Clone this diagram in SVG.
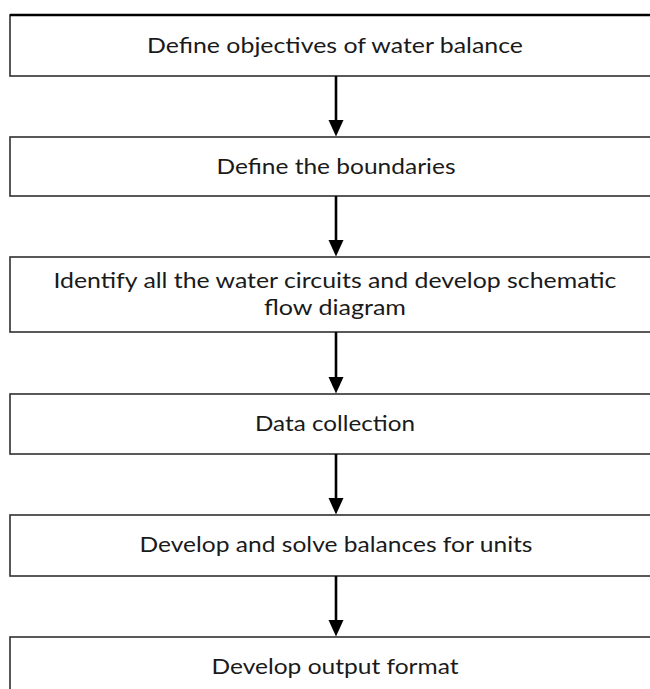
<svg xmlns="http://www.w3.org/2000/svg" width="650" height="689" viewBox="0 0 650 689">
<style>
.box{fill:#ffffff;stroke:#303030;stroke-width:1.6}
.lbl{font-family:Lato,"Open Sans","Liberation Sans",sans-serif;font-size:21px;fill:#1a1a1a;text-anchor:middle}
.conn{stroke:#000000;stroke-width:2.6;fill:none}
.head{fill:#000000}
</style>
<rect width="650" height="689" fill="#ffffff"/>
<g id="node1"><rect class="box" x="10" y="15" width="660" height="61"/><line x1="10" y1="15" x2="650" y2="15" stroke="#000" stroke-width="2.6"/><text class="lbl" x="335" y="53" textLength="376" lengthAdjust="spacingAndGlyphs">Define objectives of water balance</text></g>
<g id="node2"><rect class="box" x="10" y="137" width="660" height="59"/><text class="lbl" x="336" y="174" textLength="239" lengthAdjust="spacingAndGlyphs">Define the boundaries</text></g>
<g id="node3"><rect class="box" x="10" y="257" width="660" height="75"/><text class="lbl" x="335" y="288" textLength="563" lengthAdjust="spacingAndGlyphs">Identify all the water circuits and develop schematic</text><text class="lbl" x="335" y="315" textLength="142" lengthAdjust="spacingAndGlyphs">flow diagram</text></g>
<g id="node4"><rect class="box" x="10" y="394" width="660" height="60"/><text class="lbl" x="335" y="431" textLength="160" lengthAdjust="spacingAndGlyphs">Data collection</text></g>
<g id="node5"><rect class="box" x="10" y="515" width="660" height="61"/><text class="lbl" x="336" y="552" textLength="393" lengthAdjust="spacingAndGlyphs">Develop and solve balances for units</text></g>
<g id="node6"><rect class="box" x="10" y="637" width="660" height="70"/><text class="lbl" x="335" y="674" textLength="247" lengthAdjust="spacingAndGlyphs">Develop output format</text></g>
<g id="connectors">
<line class="conn" x1="336" y1="76" x2="336" y2="121"/><polygon class="head" points="328.5,120 343.5,120 336,136.5"/>
<line class="conn" x1="336" y1="196" x2="336" y2="241"/><polygon class="head" points="328.5,240 343.5,240 336,256.5"/>
<line class="conn" x1="336" y1="332" x2="336" y2="378"/><polygon class="head" points="328.5,377 343.5,377 336,393.5"/>
<line class="conn" x1="336" y1="454" x2="336" y2="499"/><polygon class="head" points="328.5,498 343.5,498 336,514.5"/>
<line class="conn" x1="336" y1="576" x2="336" y2="621"/><polygon class="head" points="328.5,620 343.5,620 336,636.5"/>
</g>
</svg>
